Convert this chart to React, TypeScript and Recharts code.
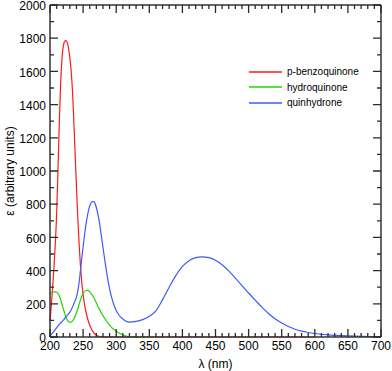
import React from 'react';
import { LineChart, Line, XAxis, YAxis, Legend, ReferenceLine } from 'recharts';

const FONT = '"Liberation Sans", Arial, sans-serif';

// p-benzoquinone
const benzoWl = [200, 202, 204, 206, 208, 210, 212, 214, 216, 218, 220, 222, 224, 226, 228, 230, 232, 234, 236, 238, 240, 242, 244, 246, 248, 250, 252, 255, 258, 262, 266, 270, 276, 285, 350, 450, 600];
const benzoEps = [100, 190, 300, 420, 560, 740, 1000, 1280, 1520, 1670, 1750, 1780, 1785, 1775, 1740, 1680, 1600, 1480, 1300, 1100, 900, 720, 560, 430, 330, 255, 200, 140, 95, 52, 26, 11, 3, 0, 0, 0, 0];

// hydroquinone
const hydroWl = [200, 203, 206, 209, 212, 215, 218, 221, 224, 227, 230, 233, 236, 239, 242, 245, 248, 251, 254, 257, 260, 263, 266, 269, 272, 275, 278, 281, 284, 288, 292, 296, 300, 305, 310, 315, 320, 330, 350];
const hydroEps = [262, 268, 272, 272, 262, 238, 200, 158, 120, 97, 88, 92, 108, 135, 170, 210, 245, 268, 280, 281, 272, 258, 238, 214, 188, 165, 142, 122, 104, 82, 62, 47, 35, 22, 12, 6, 2, 0, 0];

// quinhydrone
const quinWl = [200, 205, 210, 215, 220, 225, 230, 234, 237, 240, 243, 246, 249, 252, 255, 258, 261, 264, 266, 268, 271, 274, 277, 280, 284, 288, 292, 296, 300, 305, 310, 315, 320, 330, 340, 350, 360, 370, 380, 390, 400, 410, 420, 430, 440, 450, 460, 470, 480, 490, 500, 510, 520, 530, 540, 550, 560, 570, 580, 590, 600, 620, 640, 660, 680, 700];
const quinEps = [5, 30, 55, 80, 100, 125, 150, 180, 210, 240, 300, 400, 510, 610, 695, 760, 800, 815, 815, 805, 765, 705, 625, 540, 430, 330, 255, 200, 160, 128, 108, 95, 90, 94, 105, 125, 158, 225, 300, 370, 425, 460, 478, 483, 478, 462, 435, 398, 355, 310, 265, 222, 180, 142, 110, 84, 63, 47, 35, 27, 21, 13, 8, 5, 3, 2];

const seriesNames = ['p-benzoquinone', 'hydroquinone', 'quinhydrone'];
const seriesColors = ['#ff1a1a', '#22d400', '#3a5cf7'];

const xMajor = [200, 250, 300, 350, 400, 450, 500, 550, 600, 650, 700];
const yMajor = [0, 200, 400, 600, 800, 1000, 1200, 1400, 1600, 1800, 2000];
const xTicks = Array.from({ length: 51 }, (_, i) => 200 + i * 10);
const yTicks = Array.from({ length: 21 }, (_, i) => i * 100);

const toRows = (wl: number[], eps: number[]) => wl.map((nm, i) => ({ nm, v: eps[i] }));
const benzo = toRows(benzoWl, benzoEps);
const hydro = toRows(hydroWl, hydroEps);
const quin = toRows(quinWl, quinEps);

const W = 392;
const H = 371;
const MARGIN = { top: 5, right: 11, left: 0, bottom: 0 };
const PLOT_TOP = MARGIN.top;
const PLOT_RIGHT = W - MARGIN.right;

const AXIS = '#333';
const TICK = '#2a2a2a';

// inward ticks on the bottom and (mirrored) top edge; labels only at the bottom
const XTick = (props: any) => {
  const { x, y, payload } = props;
  const len = xMajor.includes(payload.value) ? 8 : 4;
  return (
    <g>
      <path d={`M${x},${y}v${-len}M${x},${PLOT_TOP}v${len}`} stroke={TICK} strokeWidth={1.3} fill="none" />
      {len === 8 && (
        <text x={x} y={y + 9} dy="0.355em" textAnchor="middle" fontSize={12} fontFamily={FONT} fill="#000">
          {payload.value}
        </text>
      )}
    </g>
  );
};

// inward ticks on the left and (mirrored) right edge; labels only on the left
const YTick = (props: any) => {
  const { x, y, payload } = props;
  const len = yMajor.includes(payload.value) ? 8 : 4;
  return (
    <g>
      <path d={`M${x},${y}h${len}M${PLOT_RIGHT},${y}h${-len}`} stroke={TICK} strokeWidth={1.3} fill="none" />
      {len === 8 && (
        <text x={x - 4} y={y + 1} dy="0.355em" textAnchor="end" fontSize={12} fontFamily={FONT} fill="#000">
          {payload.value}
        </text>
      )}
    </g>
  );
};

const renderLegend = () => (
  <div style={{ fontFamily: FONT, fontSize: 10, color: '#000' }}>
    {seriesNames.map((name, i) => (
      <div key={name} style={{ display: 'flex', alignItems: 'center', height: 15.5 }}>
        <svg width={33} height={4}>
          <path d="M0,2h33" stroke={seriesColors[i]} strokeWidth={1.3} />
        </svg>
        <span style={{ marginLeft: 5 }}>{name}</span>
      </div>
    ))}
  </div>
);

export default function App() {
  return (
    <div style={{ position: 'absolute', left: 0, top: 0, background: '#fff' }}>
      <LineChart width={W} height={H} margin={MARGIN}>
        <XAxis
          dataKey="nm"
          type="number"
          domain={[200, 700]}
          ticks={xTicks}
          interval={0}
          height={34}
          tickSize={0}
          tickMargin={0}
          tickLine={false}
          stroke={AXIS}
          strokeWidth={1.5}
          tick={<XTick />}
          label={{ value: 'λ (nm)', position: 'insideBottom', offset: 3, fontSize: 12, fontFamily: FONT, fill: '#000' }}
        />
        <YAxis
          type="number"
          domain={[0, 2000]}
          ticks={yTicks}
          interval={0}
          width={50}
          tickSize={0}
          tickMargin={0}
          tickLine={false}
          stroke={AXIS}
          strokeWidth={1.5}
          tick={<YTick />}
          label={{ value: 'ε (arbitrary units)', angle: -90, position: 'insideLeft', offset: 10, fontSize: 12, fontFamily: FONT, fill: '#000', style: { textAnchor: 'middle' } }}
        />
        <ReferenceLine y={2000} stroke={AXIS} strokeWidth={1.5} />
        <ReferenceLine x={700} stroke={AXIS} strokeWidth={1.5} />
        <Legend
          layout="vertical"
          align="center"
          verticalAlign="middle"
          content={renderLegend}
          wrapperStyle={{ left: 249, top: 64, width: 'auto' }}
        />
        <Line data={benzo} dataKey="v" name={seriesNames[0]} type="monotone" stroke={seriesColors[0]} strokeWidth={1.2} dot={false} isAnimationActive={false} />
        <Line data={hydro} dataKey="v" name={seriesNames[1]} type="monotone" stroke={seriesColors[1]} strokeWidth={1.2} dot={false} isAnimationActive={false} />
        <Line data={quin} dataKey="v" name={seriesNames[2]} type="monotone" stroke={seriesColors[2]} strokeWidth={1.2} dot={false} isAnimationActive={false} />
      </LineChart>
    </div>
  );
}
